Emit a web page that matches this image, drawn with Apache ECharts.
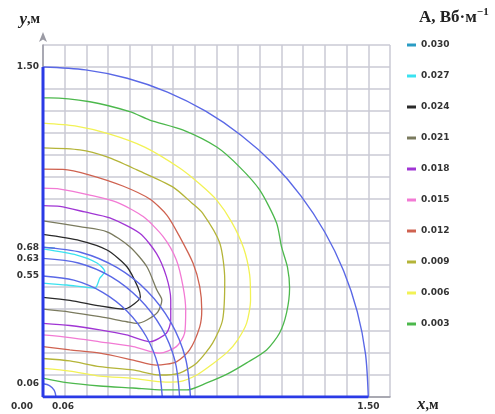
<!DOCTYPE html>
<html><head><meta charset="utf-8">
<script src="https://cdn.jsdelivr.net/npm/echarts@6/dist/echarts.min.js"></script>
<style>html,body{margin:0;padding:0;background:#fff}#c{width:495px;height:414px}</style>
</head><body><div id="c"></div><script>
// Contour levels (legend) and their polylines in data units (x, y in metres)
const levels = ['0.030','0.027','0.024','0.021','0.018','0.015','0.012','0.009','0.006','0.003'];
const c030 = [[0,0.681],[0.055,0.677]];
const c027 = [[0,0.673],[0.156,0.645],[0.249,0.609],[0.285,0.570],[0.262,0.540],[0.239,0.495],[0.110,0.509],[0,0.518]];
const c024 = [[0,0.739],[0.170,0.711],[0.295,0.668],[0.387,0.592],[0.437,0.500],[0.449,0.455],[0.400,0.409],[0.370,0.400],[0.262,0.414],[0.124,0.439],[0,0.453]];
const c021 = [[0,0.801],[0.170,0.774],[0.295,0.751],[0.400,0.683],[0.479,0.592],[0.525,0.486],[0.548,0.441],[0.529,0.386],[0.479,0.350],[0.433,0.335],[0.387,0.342],[0.262,0.365],[0.124,0.386],[0,0.399]];
const c018 = [[0,0.870],[0.078,0.866],[0.193,0.841],[0.308,0.814],[0.446,0.744],[0.523,0.653],[0.569,0.547],[0.589,0.441],[0.589,0.350],[0.569,0.290],[0.492,0.251],[0.385,0.282],[0.262,0.305],[0.124,0.325],[0,0.335]];
const c015 = [[0,0.949],[0.078,0.945],[0.216,0.918],[0.339,0.886],[0.462,0.820],[0.554,0.729],[0.615,0.623],[0.646,0.501],[0.658,0.395],[0.653,0.290],[0.615,0.229],[0.538,0.199],[0.416,0.229],[0.262,0.251],[0.124,0.270],[0,0.282]];
const c012 = [[0,1.036],[0.092,1.035],[0.216,1.009],[0.368,0.959],[0.492,0.900],[0.571,0.827],[0.630,0.729],[0.692,0.608],[0.723,0.501],[0.732,0.395],[0.723,0.320],[0.676,0.214],[0.615,0.160],[0.523,0.145],[0.416,0.168],[0.262,0.199],[0.124,0.214],[0,0.229]];
const c009 = [[0,1.132],[0.170,1.123],[0.295,1.091],[0.433,1.032],[0.598,0.955],[0.686,0.882],[0.736,0.836],[0.815,0.700],[0.838,0.532],[0.828,0.350],[0.782,0.245],[0.709,0.155],[0.630,0.109],[0.538,0.100],[0.414,0.123],[0.262,0.138],[0.124,0.164],[0,0.175]];
const c006 = [[0,1.245],[0.147,1.232],[0.308,1.195],[0.469,1.136],[0.630,1.041],[0.723,0.968],[0.801,0.895],[0.870,0.795],[0.925,0.677],[0.953,0.555],[0.957,0.441],[0.939,0.336],[0.897,0.259],[0.851,0.205],[0.782,0.150],[0.709,0.100],[0.630,0.070],[0.566,0.068],[0.414,0.085],[0.262,0.095],[0.124,0.118],[0,0.130]];
const c003 = [[0,1.360],[0.032,1.360],[0.216,1.342],[0.400,1.297],[0.492,1.259],[0.644,1.214],[0.801,1.136],[0.907,1.045],[0.999,0.941],[1.077,0.791],[1.100,0.682],[1.127,0.591],[1.137,0.495],[1.123,0.382],[1.091,0.291],[1.031,0.214],[0.939,0.155],[0.851,0.105],[0.755,0.064],[0.663,0.032],[0.552,0.032],[0.414,0.041],[0.262,0.050],[0.110,0.065],[0,0.086]];
const contours = [c030,c027,c024,c021,c018,c015,c012,c009,c006,c003];

// Region boundaries (blue)
const bOuter = [[0,1.5],[0.196,1.487],[0.388,1.449],[0.574,1.386],[0.75,1.299],[0.913,1.190],[1.061,1.061],[1.190,0.913],[1.299,0.75],[1.386,0.574],[1.449,0.388],[1.487,0.196],[1.5,0]];
const b068 = [[0,0.68],[0.176,0.657],[0.34,0.589],[0.481,0.481],[0.589,0.34],[0.657,0.176],[0.68,0]];
const b063 = [[0,0.63],[0.163,0.609],[0.315,0.546],[0.445,0.445],[0.546,0.315],[0.609,0.163],[0.63,0]];
const b055 = [[0,0.55],[0.142,0.531],[0.275,0.476],[0.389,0.389],[0.476,0.275],[0.531,0.142],[0.55,0]];
const b006 = [[0,0.06],[0.03,0.052],[0.052,0.03],[0.06,0]];
const bAxisY = [[0,0],[0,1.5]];
const bAxisX = [[0,0],[1.5,0]];

// Tick labels
const xTickValues = [0,0.06,1.5];
const yTickValues = [0.06,0.55,0.63,0.68,1.5];

const palette = ['#2a9cc4','#3ae2f0','#2a2a2a','#7a7a5e','#a035d4','#f27ad4','#cf6250','#b4b438','#f2f255','#4cb84c'];
const lblFont = {fontFamily:'DejaVu Sans', fontWeight:'bold', fontSize:9, color:'#333'};

const series = [];
contours.forEach((d,i)=>{
  series.push({name:levels[i], type:'line', data:d, smooth:0.25, showSymbol:false, symbol:'none',
    lineStyle:{color:palette[i], width:1.3}, itemStyle:{color:palette[i]}, z:3});
});
[bOuter,b068,b063,b055,b006].forEach((d,i)=>{
  series.push({name:'b'+i, type:'line', data:d, smooth:0.3, showSymbol:false, symbol:'none',
    lineStyle:{color:'#5a68e6', width:1.4}, z:4});
});
[bAxisY,bAxisX].forEach((d,i)=>{
  series.push({name:'ax'+i, type:'line', data:d, showSymbol:false, symbol:'none',
    lineStyle:{color:'#2a3ae6', width:3}, z:5});
});

const chart = echarts.init(document.getElementById('c'), null, {renderer:'canvas'});
chart.setOption({
  animation:false,
  backgroundColor:'#fff',
  title:{text:'A, Вб·м{s|−1}', left:414, top:2,
    textStyle:{fontFamily:'Liberation Serif', fontWeight:'bold', fontSize:17, color:'#222',
      rich:{s:{fontFamily:'Liberation Serif', fontWeight:'bold', fontSize:11, color:'#222', padding:[0,0,10,0]}}}},
  legend:{data:levels, orient:'vertical', left:402, top:34, icon:'rect', itemWidth:9, itemHeight:3,
    itemGap:19, selectedMode:false, textStyle:Object.assign({}, lblFont, {lineHeight:12, padding:[0,0,0,0]})},
  grid:{left:43, right:105, top:45, bottom:17},
  xAxis:{type:'value', min:0, max:1.6, interval:0.1,
    axisLine:{show:true, lineStyle:{color:'#9a9aa4', width:1.5}},
    axisTick:{show:false},
    splitLine:{show:true, lineStyle:{color:'#cacad4', width:1.5}},
    axisLabel:Object.assign({}, lblFont, {customValues:xTickValues, margin:5,
      formatter:v=> v===0 ? '{l|0.00}' : (Math.abs(v-0.06)<1e-9 ? '{r|0.06}' : v.toFixed(2)),
      rich:{l:{padding:[0,42,0,0]}, r:{padding:[0,0,0,14]}}}),
    name:'{i|x},м', nameLocation:'end', nameGap:27,
    nameTextStyle:{fontFamily:'Liberation Serif', fontWeight:'bold', fontSize:14, color:'#222', padding:[16,0,0,0],
      rich:{i:{fontFamily:'Liberation Serif', fontStyle:'italic', fontWeight:'bold', fontSize:17, color:'#222'}}}},
  yAxis:{type:'value', min:0, max:1.6, interval:0.1,
    axisLine:{show:true, symbol:['none','arrow'], symbolSize:[6,10], symbolOffset:[0,13], lineStyle:{color:'#9a9aa4', width:1.5}},
    axisTick:{show:false},
    splitLine:{show:true, lineStyle:{color:'#cacad4', width:1.5}},
    axisLabel:Object.assign({}, lblFont, {customValues:yTickValues, margin:4, formatter:v=>v.toFixed(2)}),
    name:'{i|y},м', nameLocation:'end', nameGap:17,
    nameTextStyle:{fontFamily:'Liberation Serif', fontWeight:'bold', fontSize:14, color:'#222', align:'right', padding:[0,3,0,0],
      rich:{i:{fontFamily:'Liberation Serif', fontStyle:'italic', fontWeight:'bold', fontSize:17, color:'#222'}}}},
  series:series
});
</script></body></html>
